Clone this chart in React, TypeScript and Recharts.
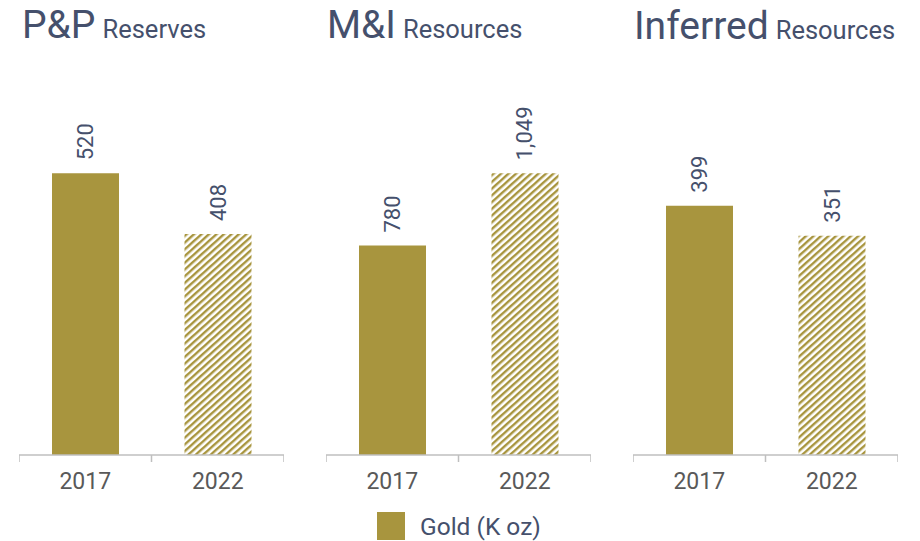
import React from 'react';
import { BarChart, Bar, XAxis, YAxis, Cell, LabelList } from 'recharts';

const categories = ['2017', '2022'];
const ppValues = [520, 408];
const miValues = [780, 1049];
const infValues = [399, 351];
const panelMainTitles = ['P&P', 'M&I', 'Inferred'];
const panelSubTitles = ['Reserves', 'Resources', 'Resources'];
const panelDomainMax = [600, 1210, 520];
const legendLabel = 'Gold (K oz)';

const GOLD = '#A8953E';
const TITLE = '#45506C';
const TICK = '#595959';
const AXIS = '#BFBFBF';
const FONT = 'Roboto, "Liberation Sans", Arial, sans-serif';

const buildData = (values: number[]) =>
  categories.map((year, i) => ({ year, gold: values[i] }));

const panels = [ppValues, miValues, infValues].map(buildData);

const YearTick = (props: any) => {
  const { x, y, payload, index, visibleTicksCount, width } = props;
  const half =
    payload && typeof payload.offset === 'number' && payload.offset > 0
      ? payload.offset
      : (width || 265) / (visibleTicksCount || 2) / 2;
  const last = index === (visibleTicksCount || 2) - 1;
  return (
    <g>
      <line x1={x - half} x2={x - half} y1={y} y2={y + 7} stroke={AXIS} strokeWidth={1.5} />
      {last && <line x1={x + half} x2={x + half} y1={y} y2={y + 7} stroke={AXIS} strokeWidth={1.5} />}
      <text x={x} y={y + 34} textAnchor="middle" fontSize={23} fill={TICK} fontFamily={FONT}>
        {payload.value}
      </text>
    </g>
  );
};

const ValueLabel = (props: any) => {
  const { x, y, width, value } = props;
  const cx = Number(x) + Number(width) / 2;
  const ty = Number(y) - 13;
  return (
    <text
      x={cx}
      y={ty}
      transform={`rotate(-90 ${cx} ${ty})`}
      textAnchor="start"
      dominantBaseline="central"
      fontSize={22}
      fill={TITLE}
      fontFamily={FONT}
    >
      {Number(value).toLocaleString('en-US')}
    </text>
  );
};

const panelLefts = [19, 326, 633];
const titleLefts = [22, 327, 634];

export default function App() {
  return (
    <div style={{ position: 'absolute', left: 0, top: 0, width: 920, height: 541, background: '#fff', fontFamily: FONT }}>
      <svg width={0} height={0} style={{ position: 'absolute' }}>
        <defs>
          <pattern id="hatch" patternUnits="userSpaceOnUse" width={5} height={5} patternTransform="rotate(48)">
            <rect width={5} height={5} fill="#ffffff" />
            <rect width={2.4} height={5} fill={GOLD} />
          </pattern>
        </defs>
      </svg>
      {panels.map((data, p) => (
        <div key={p} style={{ position: 'absolute', left: panelLefts[p], top: 0 }}>
          <BarChart
            width={265}
            height={541}
            data={data}
            margin={{ top: 130, right: 0, bottom: 56, left: 0 }}
          >
            <XAxis
              dataKey="year"
              height={30}
              axisLine={{ stroke: AXIS, strokeWidth: 1.5 }}
              tickLine={false}
              tickSize={0}
              tickMargin={0}
              tick={<YearTick />}
              interval={0}
            />
            <YAxis hide width={0} domain={[0, panelDomainMax[p]]} />
            <Bar dataKey="gold" barSize={67} isAnimationActive={false}>
              {data.map((d, i) => (
                <Cell key={d.year} fill={i === 0 ? GOLD : 'url(#hatch)'} />
              ))}
              <LabelList dataKey="gold" content={<ValueLabel />} />
            </Bar>
          </BarChart>
        </div>
      ))}
      <svg width={920} height={541} style={{ position: 'absolute', left: 0, top: 0, pointerEvents: 'none' }}>
        {panelMainTitles.map((t, p) => (
          <text key={t} x={titleLefts[p]} y={p === 2 ? 39 : 38} fill={TITLE} fontFamily={FONT}>
            <tspan fontSize={39}>{t}</tspan>
            <tspan fontSize={25.5} dx={7}>{panelSubTitles[p]}</tspan>
          </text>
        ))}
        <rect x={377} y={512} width={28} height={28} fill={GOLD} />
        <text x={420} y={535} fontSize={24.5} fill={TITLE} fontFamily={FONT}>
          {legendLabel}
        </text>
      </svg>
    </div>
  );
}
